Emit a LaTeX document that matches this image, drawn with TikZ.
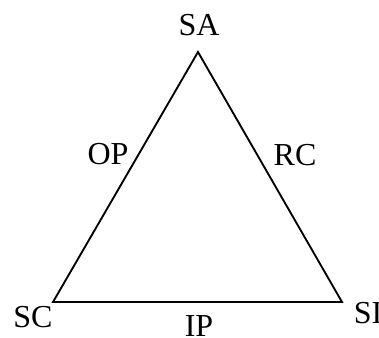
\documentclass[tikz,border=0pt]{standalone}
\usepackage{fontspec}
\setmainfont{Liberation Serif}
\usepackage{tikz}
\usetikzlibrary{positioning}

\begin{document}
\begin{tikzpicture}[x=0.75pt, y=-0.75pt]
  \tikzstyle{vlabel} = [inner sep=0pt, font=\fontsize{24}{28}\selectfont]
  \tikzstyle{side} = [draw=black, line width=1.4pt, line join=miter]

  \useasboundingbox (0,0) rectangle (379,338);

  % vertices
  \coordinate (apex) at (198,52);
  \coordinate (left) at (53,302);
  \coordinate (right) at (342,302);

  \node [vlabel] (sa) at (199,25) {SA};
  \node [vlabel] (sc) at (33,317) {SC};
  \node [vlabel] (si) at (368,313) {SI};
  \node [vlabel] (op) at (108,154) {OP};
  \node [vlabel] (rc) at (295,155) {RC};
  \node [vlabel] (ip) at (199,326) {IP};

  \draw [side] (apex) -- (left) -- (right) -- cycle;
\end{tikzpicture}
\end{document}
